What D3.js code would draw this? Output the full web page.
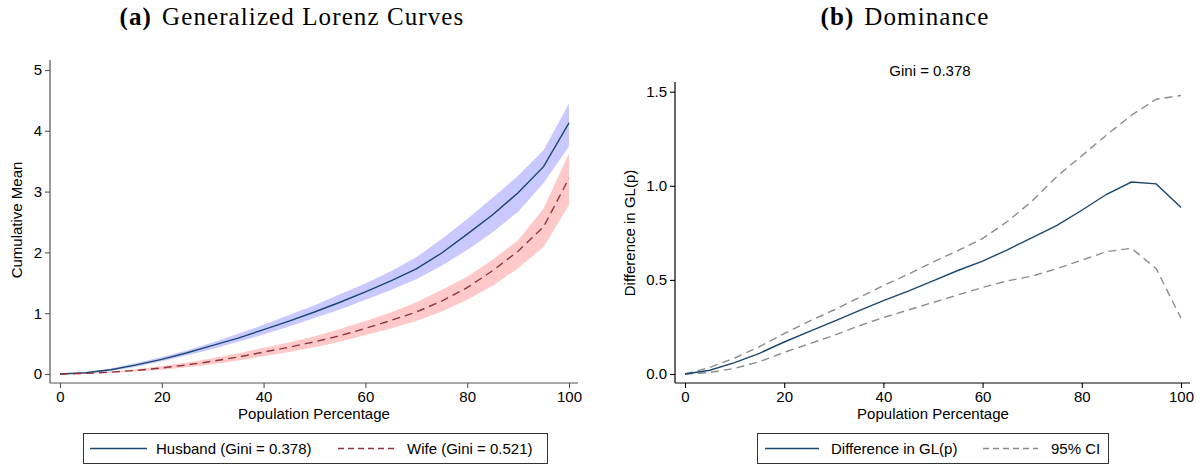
<!DOCTYPE html>
<html>
<head>
<meta charset="utf-8">
<script src="https://cdn.jsdelivr.net/npm/d3@7"></script>
<style>
  body { margin: 0; background: #fff; }
  svg { display: block; }
  .tick text { font-family: "Liberation Sans", Arial, sans-serif; font-size: 15px; fill: #000; }
</style>
</head>
<body>
<svg id="chart" width="1196" height="466"></svg>
<script>
// population percentage grid
var pct = [0, 5, 10, 15, 20, 25, 30, 35, 40, 45, 50, 55, 60, 65, 70, 75, 80, 85, 90, 95, 100];

// (a) generalized Lorenz curves
var husbandMean = [0, 0.02, 0.07, 0.15, 0.24, 0.35, 0.47, 0.59, 0.73, 0.87, 1.02, 1.18, 1.35, 1.53, 1.73, 1.99, 2.30, 2.62, 2.98, 3.41, 4.13];
var husbandLo   = [0, 0.01, 0.05, 0.12, 0.21, 0.31, 0.41, 0.53, 0.65, 0.78, 0.92, 1.06, 1.22, 1.38, 1.56, 1.78, 2.04, 2.33, 2.67, 3.14, 3.74];
var husbandHi   = [0, 0.03, 0.09, 0.18, 0.28, 0.39, 0.52, 0.66, 0.81, 0.97, 1.13, 1.31, 1.49, 1.69, 1.92, 2.22, 2.55, 2.90, 3.26, 3.68, 4.45];
var wifeMean = [0, 0.01, 0.03, 0.06, 0.10, 0.15, 0.21, 0.28, 0.36, 0.44, 0.53, 0.63, 0.75, 0.88, 1.02, 1.20, 1.42, 1.70, 2.02, 2.42, 3.22];
var wifeLo   = [0, 0.005, 0.02, 0.04, 0.07, 0.11, 0.16, 0.22, 0.29, 0.36, 0.44, 0.53, 0.64, 0.75, 0.87, 1.03, 1.22, 1.45, 1.74, 2.09, 2.78];
var wifeHi   = [0, 0.015, 0.04, 0.08, 0.13, 0.19, 0.26, 0.34, 0.43, 0.52, 0.62, 0.74, 0.87, 1.01, 1.18, 1.38, 1.60, 1.88, 2.20, 2.72, 3.63];

// (b) dominance
var diffGL = [0, 0.02, 0.06, 0.11, 0.17, 0.225, 0.28, 0.335, 0.39, 0.44, 0.495, 0.55, 0.60, 0.66, 0.725, 0.79, 0.87, 0.955, 1.02, 1.01, 0.885];
var ciLo   = [0, 0.008, 0.03, 0.065, 0.115, 0.16, 0.205, 0.255, 0.30, 0.34, 0.38, 0.42, 0.46, 0.495, 0.52, 0.56, 0.605, 0.65, 0.668, 0.56, 0.296];
var ciHi   = [0, 0.035, 0.085, 0.145, 0.215, 0.28, 0.34, 0.405, 0.47, 0.53, 0.595, 0.655, 0.72, 0.81, 0.92, 1.05, 1.16, 1.27, 1.375, 1.46, 1.48];

var xTicks = [0, 20, 40, 60, 80, 100];
var yTicksA = [0, 1, 2, 3, 4, 5];
var yTicksB = [0, 0.5, 1.0, 1.5];

var navy = "#1a476f", maroon = "#90353b", gray = "#8c8c8c";
var sans = "'Liberation Sans', Arial, sans-serif";
var serif = "'Liberation Serif', 'DejaVu Serif', serif";

var svg = d3.select("#chart");

function rows(ys) { return pct.map(function (p, i) { return { p: p, v: ys[i] }; }); }
function band(lo, hi) { return pct.map(function (p, i) { return { p: p, lo: lo[i], hi: hi[i] }; }); }

function axes(g, x, y, yTicks, yFmt, axisColor, x0, x1, yTop, yBase) {
    var xa = g.append("g")
        .attr("transform", "translate(0," + yBase + ")")
        .call(d3.axisBottom(x).tickValues(xTicks).tickSize(5).tickPadding(3).tickSizeOuter(0));
    xa.select(".domain").attr("d", "M" + x0 + ",0H" + x1);
    var ya = g.append("g")
        .attr("transform", "translate(" + x0 + ",0)")
        .call(d3.axisLeft(y).tickValues(yTicks).tickFormat(yFmt).tickSize(5).tickPadding(3).tickSizeOuter(0));
    ya.select(".domain").attr("d", "M0," + yTop + "V" + yBase);
    [xa, ya].forEach(function (a) {
        a.selectAll(".domain").attr("stroke", axisColor).attr("stroke-width", 1.2);
        a.selectAll(".tick line").attr("stroke", axisColor).attr("stroke-width", 1.1);
    });
}

function title(x, tag, label) {
    var t = svg.append("text").attr("x", x).attr("y", 25).attr("text-anchor", "middle")
        .attr("font-family", serif).attr("font-size", 25).attr("letter-spacing", 1.1);
    t.append("tspan").attr("font-weight", "bold").text(tag);
    t.append("tspan").attr("dx", 10).text(label);
}

// ---------- panel (a) ----------
var xa = d3.scaleLinear().domain([0, 100]).range([60, 569]);
var ya = d3.scaleLinear().domain([0, 5]).range([374, 70]);
var ga = svg.append("g");

var areaA = d3.area().x(function (d) { return xa(d.p); })
    .y0(function (d) { return ya(d.lo); }).y1(function (d) { return ya(d.hi); });
var lineA = d3.line().x(function (d) { return xa(d.p); }).y(function (d) { return ya(d.v); });

ga.append("path").attr("d", areaA(band(husbandLo, husbandHi))).attr("fill", "#c9c9ff");
ga.append("path").attr("d", areaA(band(wifeLo, wifeHi))).attr("fill", "#ffc9c9");
ga.append("path").attr("d", lineA(rows(husbandMean))).attr("fill", "none")
    .attr("stroke", navy).attr("stroke-width", 1.4);
ga.append("path").attr("d", lineA(rows(wifeMean))).attr("fill", "none")
    .attr("stroke", maroon).attr("stroke-width", 1.4).attr("stroke-dasharray", "8,5");

axes(ga, xa, ya, yTicksA, d3.format("d"), "#555", 50, 578, 60, 383);

ga.append("text").attr("transform", "translate(22,220) rotate(-90)")
    .attr("text-anchor", "middle").attr("font-family", sans).attr("font-size", 15)
    .text("Cumulative Mean");
ga.append("text").attr("x", 314).attr("y", 419).attr("text-anchor", "middle")
    .attr("font-family", sans).attr("font-size", 15).text("Population Percentage");

title(292, "(a)", "Generalized Lorenz Curves");

// ---------- panel (b) ----------
var xb = d3.scaleLinear().domain([0, 100]).range([685, 1181]);
var yb = d3.scaleLinear().domain([0, 1.5]).range([374, 91.7]);
var gb = svg.append("g");

var lineB = d3.line().x(function (d) { return xb(d.p); }).y(function (d) { return yb(d.v); });

gb.append("path").attr("d", lineB(rows(ciHi))).attr("fill", "none")
    .attr("stroke", gray).attr("stroke-width", 1.4).attr("stroke-dasharray", "8,5");
gb.append("path").attr("d", lineB(rows(ciLo))).attr("fill", "none")
    .attr("stroke", gray).attr("stroke-width", 1.4).attr("stroke-dasharray", "8,5");
gb.append("path").attr("d", lineB(rows(diffGL))).attr("fill", "none")
    .attr("stroke", navy).attr("stroke-width", 1.4);

axes(gb, xb, yb, yTicksB, d3.format(".1f"), "#000", 675, 1190, 82, 383);

gb.append("text").attr("transform", "translate(635,233) rotate(-90)")
    .attr("text-anchor", "middle").attr("font-family", sans).attr("font-size", 15)
    .text("Difference in GL(p)");
gb.append("text").attr("x", 933).attr("y", 419).attr("text-anchor", "middle")
    .attr("font-family", sans).attr("font-size", 15).text("Population Percentage");
gb.append("text").attr("x", 930).attr("y", 76).attr("text-anchor", "middle")
    .attr("font-family", sans).attr("font-size", 15).text("Gini = 0.378");

title(905, "(b)", "Dominance");

// ---------- legends ----------
function legend(box, items) {
    var g = svg.append("g");
    g.append("rect").attr("x", box[0] + 0.5).attr("y", 433.5).attr("width", box[1] - box[0])
        .attr("height", 30).attr("fill", "#fff").attr("stroke", "#333").attr("stroke-width", 1);
    items.forEach(function (it) {
        g.append("line").attr("x1", it.x1).attr("x2", it.x2).attr("y1", 448.5).attr("y2", 448.5)
            .attr("stroke", it.color).attr("stroke-width", 1.4)
            .attr("stroke-dasharray", it.dash ? "6,4" : null);
        g.append("text").attr("x", it.tx).attr("y", 454).attr("font-family", sans)
            .attr("font-size", 15).text(it.label);
    });
}
legend([83, 547], [
    { x1: 90, x2: 147, tx: 156, color: navy, label: "Husband (Gini = 0.378)" },
    { x1: 338, x2: 397, tx: 407, color: maroon, dash: true, label: "Wife (Gini = 0.521)" }
]);
legend([757, 1108], [
    { x1: 765, x2: 819, tx: 831, color: navy, label: "Difference in GL(p)" },
    { x1: 983, x2: 1038, tx: 1051, color: gray, dash: true, label: "95% CI" }
]);
</script>
</body>
</html>
